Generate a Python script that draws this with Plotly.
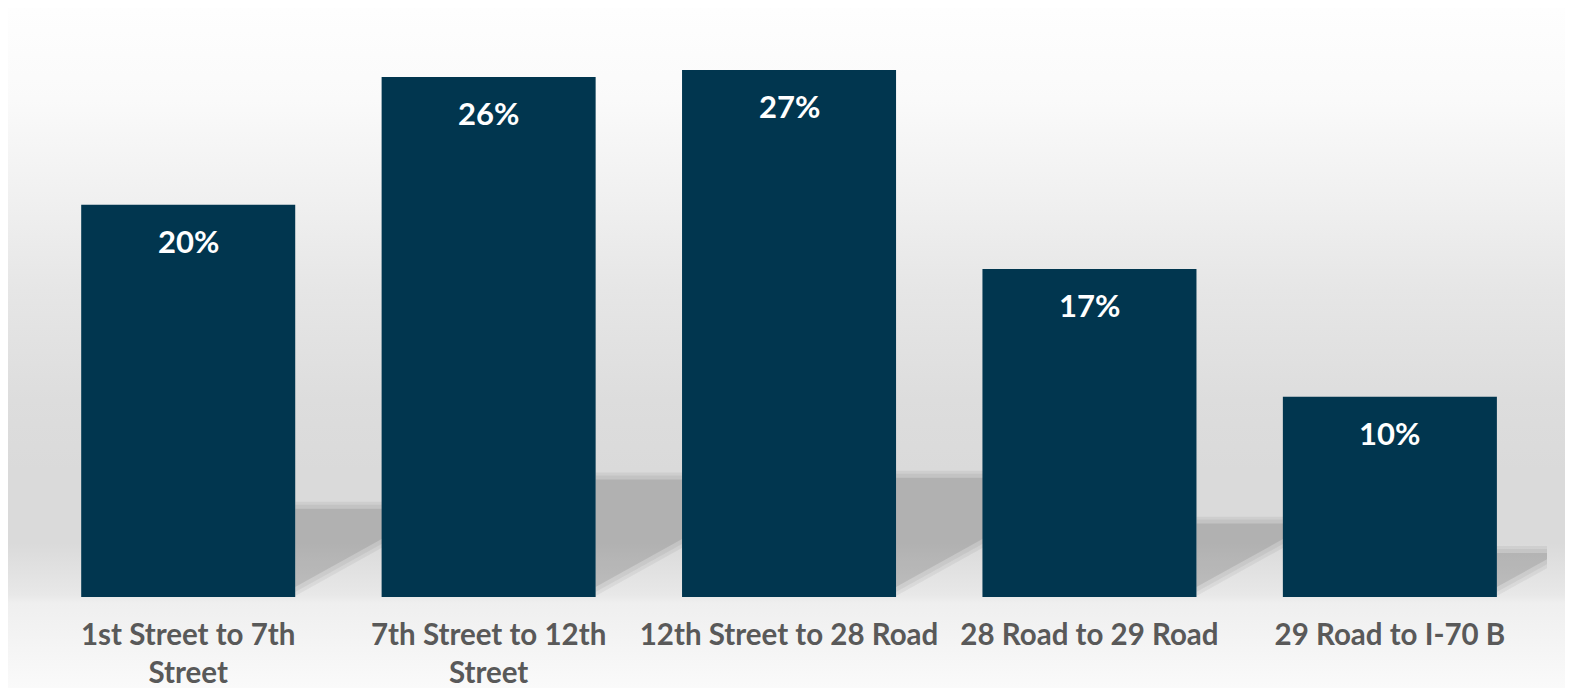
import base64
import plotly.graph_objects as go

# ---- data ----
categories = ["1st Street to 7th<br>Street", "7th Street to 12th<br>Street",
              "12th Street to 28 Road", "28 Road to 29 Road", "29 Road to I-70 B"]
shares = [19.85, 26.31, 26.67, 16.59, 10.13]
share_labels = ["20%", "26%", "27%", "17%", "10%"]

# ---- layout constants (figure pixels; page adds an 8px body margin) ----
W, H = 1573, 688
ML, MR, MT, MB = 30, 34, 4, 99
BAR_COLOR = "#01364F"
BARGAP = 0.2876
YMAX = 29.60
XMAX = 4.523
BG_W = 1562

idx = list(range(len(categories)))

fig = go.Figure()
fig.add_trace(go.Bar(
    x=idx, y=shares, marker=dict(color=BAR_COLOR, line=dict(width=0)),
    hoverinfo="skip", showlegend=False,
))

# value labels inside top of each bar
for i, (v, lab) in enumerate(zip(shares, share_labels)):
    fig.add_annotation(x=i, y=v, text=lab, showarrow=False, yanchor="middle",
                       yshift=-36,
                       font=dict(family="Lato", size=31, color="white", weight="bold"))

# floor shadows behind bars (soft triangles from each bar's right edge)
half = (1 - BARGAP) / 2
slope = 8.45
base = 0.35
for i, v in enumerate(shares):
    xr = i + half
    top = 0.23 * v
    for dtop, dbase, alpha in [(0.25, -0.3, 0.05), (0.1, -0.1, 0.05), (-0.1, 0.15, 0.09)]:
        ytop = top + dtop
        y0 = base + dbase
        x2 = xr + (ytop - y0) / slope
        fig.add_shape(type="path",
                      path=f"M {xr},{y0} L {xr},{ytop} L {x2},{ytop} Z",
                      xref="x", yref="y", line=dict(width=0),
                      fillcolor=f"rgba(0,0,0,{alpha})", layer="below")

# background gradient (figure-pixel stops) as an SVG image
stops = [(0, "#FEFEFE"), (92, "#FAFAFA"), (192, "#F0F0F0"), (282, "#E6E6E6"),
         (392, "#DDDDDD"), (462, "#DADADA"), (535, "#DADADA"), (587, "#E8E8E8"),
         (595, "#EFEFEF"), (688, "#FBFBFB")]
stop_xml = "".join(f'<stop offset="{p/H:.4f}" stop-color="{c}"/>' for p, c in stops)
svg = (f'<svg xmlns="http://www.w3.org/2000/svg" width="{BG_W}" height="{H}" '
       f'viewBox="0 0 {BG_W} {H}" preserveAspectRatio="none">'
       f'<defs><linearGradient id="g" x1="0" y1="0" x2="0" y2="1">{stop_xml}'
       f'</linearGradient></defs><rect width="{BG_W}" height="{H}" fill="url(#g)"/></svg>')
src = "data:image/svg+xml;base64," + base64.b64encode(svg.encode()).decode()

pw = W - ML - MR
ph = H - MT - MB
fig.add_layout_image(
    source=src, xref="paper", yref="paper",
    x=-ML / pw, y=(H - MB) / ph,
    sizex=BG_W / pw, sizey=H / ph,
    xanchor="left", yanchor="top", sizing="stretch", layer="below",
)

fig.update_layout(
    width=W, height=H,
    margin=dict(l=ML, r=MR, t=MT, b=MB),
    paper_bgcolor="white", plot_bgcolor="rgba(0,0,0,0)",
    bargap=BARGAP,
    xaxis=dict(range=[-0.5, XMAX], tickmode="array", tickvals=idx, ticktext=categories,
               tickangle=0, showgrid=False, zeroline=False, showline=False, ticks="",
               ticklabelstandoff=17,
               tickfont=dict(family="Lato", size=29.5, color="#595959", weight="bold")),
    yaxis=dict(range=[0, YMAX], visible=False, showgrid=False, zeroline=False),
    font=dict(family="Lato"),
)

fig.write_html("out.html")
